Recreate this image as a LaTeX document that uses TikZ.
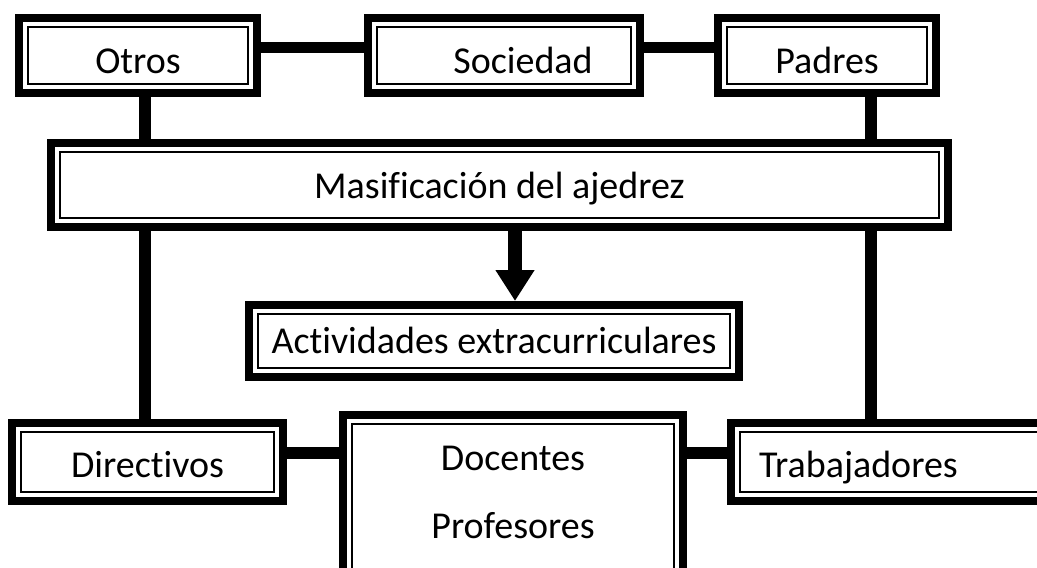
\documentclass[tikz,border=0pt]{standalone}
\usepackage{fontspec}
\setmainfont{Carlito}[Ligatures=NoCommon]
\usetikzlibrary{arrows.meta,backgrounds}
\tikzset{
  box/.style = {draw, line width=8pt, fill=white, inner sep=0pt,
                font=\fontsize{38}{68}\selectfont,
                path picture={\draw[line width=2.5pt]
                  ([shift={(9pt,-9pt)}]path picture bounding box.north west) rectangle
                  ([shift={(-9pt,9pt)}]path picture bounding box.south east);}},
  txt/.style 2 args = {text height=#1, text depth=#2},
  shiftr/.style = {execute at begin node={\hspace*{#1}}},
  link/.style = {line width=11.5pt}
}

\begin{document}
\begin{tikzpicture}[x=1pt,y=-1pt]
	\useasboundingbox (0,0) rectangle (1037,568);

	% Boxes
	\node[box, txt={44pt}{8pt}, minimum width=238pt, minimum height=75pt] (otros) at (138,55.5) {Otros};
	\node[box, txt={44pt}{8pt}, shiftr=38pt, minimum width=272pt, minimum height=75pt] (sociedad) at (504,55.5) {Sociedad};
	\node[box, txt={44pt}{8pt}, minimum width=218pt, minimum height=75pt] (padres) at (827,55.5) {Padres};
	\node[box, txt={39pt}{13pt}, minimum width=897pt, minimum height=84pt] (masif) at (499.5,185) {Masificación del ajedrez};
	\node[box, txt={38.5pt}{13.5pt}, minimum width=490pt, minimum height=72pt] (activ) at (494,341) {Actividades extracurriculares};
	\node[box, txt={41pt}{11pt}, minimum width=271pt, minimum height=78pt] (directivos) at (147.5,462) {Directivos};
	\node[box, minimum width=340pt, minimum height=222pt, align=center] (docentes) at (513,526) {Docentes\\Profesores\\\mbox{}};
	\node[box, txt={41pt}{11pt}, minimum height=78pt, inner xsep=28pt, text width=293pt, align=left] (trabajadores) at (905.5,462) {Trabajadores};

	% Helper coordinates
	\coordinate (lx) at (145,0);
	\coordinate (rx) at (871,0);
	\coordinate (ax) at (515,0);
	\coordinate (ty) at (0,47.5);
	\coordinate (by) at (0,453);

	% Connectors
	\begin{scope}[on background layer]
	\draw[link] (otros.east |- ty) -- (sociedad.west |- ty);
	\draw[link] (sociedad.east |- ty) -- (padres.west |- ty);
	\draw[link] (otros.south -| lx) -- (masif.north -| lx);
	\draw[link] (masif.south -| lx) -- (directivos.north -| lx);
	\draw[link] (padres.south -| rx) -- (masif.north -| rx);
	\draw[link] (masif.south -| rx) -- (trabajadores.north -| rx);
	\draw[link] (directivos.east |- by) -- (docentes.west |- by);
	\draw[link] (docentes.east |- by) -- (trabajadores.west |- by);
	\draw[line width=14pt, -{Triangle[width=37pt,length=31pt]}] (masif.south -| ax) -- (activ.north -| ax);
	\end{scope}
\end{tikzpicture}
\end{document}
